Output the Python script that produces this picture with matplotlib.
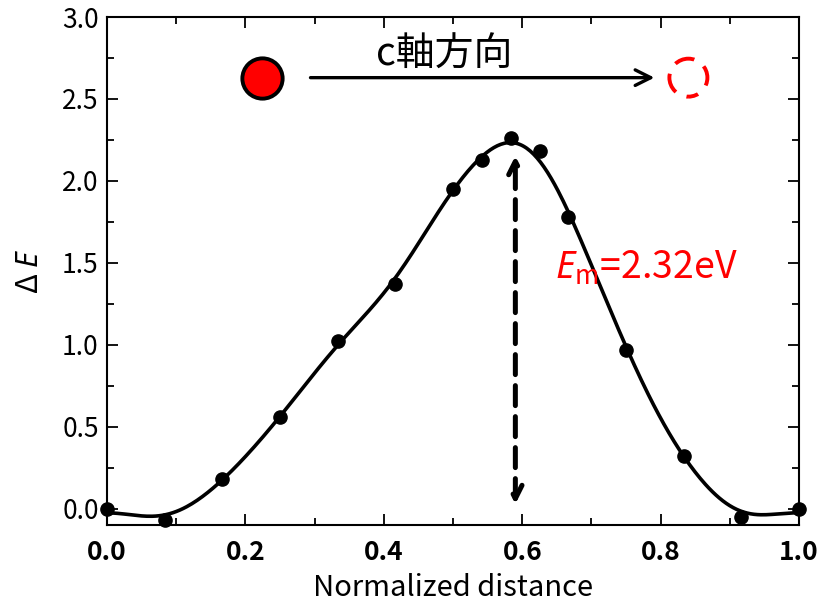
import numpy as np
import matplotlib.pyplot as plt
from matplotlib.patches import Ellipse
from matplotlib.ticker import MultipleLocator

plt.rcParams['font.family'] = ['Noto Sans CJK JP', 'DejaVu Sans']
plt.rcParams['mathtext.fontset'] = 'custom'
plt.rcParams['mathtext.it'] = 'Noto Sans:italic'
plt.rcParams['mathtext.rm'] = 'Noto Sans CJK JP'

# calculated points
dist = [0.0, 1/12, 2/12, 3/12, 4/12, 5/12, 6/12, 6.5/12, 7/12, 7.5/12,
        8/12, 9/12, 10/12, 11/12, 1.0]
energy = [0.0, -0.07, 0.18, 0.56, 1.02, 1.37, 1.95, 2.13, 2.26, 2.18,
          1.78, 0.97, 0.32, -0.05, 0.0]

# smoothing fit (fourier series with curvature penalty)
K = 8
def basis(x):
    x = np.asarray(x)
    cols = [np.ones_like(x)]
    for n in range(1, K + 1):
        cols += [np.cos(2 * np.pi * n * x), np.sin(2 * np.pi * n * x)]
    return np.column_stack(cols)

lam = 1.2e-5
pen = np.array([0.0] + [(2 * np.pi * n) ** 4 for n in range(1, K + 1) for _ in (0, 1)])
A = basis(dist)
coef = np.linalg.solve(A.T @ A + lam * np.diag(pen), A.T @ np.array(energy))
xs = np.linspace(0, 1, 400)
ys = basis(xs) @ coef

fig = plt.figure(figsize=(8.23, 6.08), dpi=100)
ax = fig.add_axes([0.130, 0.1365, 0.841, 0.8355])

ax.plot(xs, ys, color='black', lw=2.6, zorder=3)
ax.plot(dist, energy, 'o', color='black', ms=9.5, zorder=4, clip_on=False)

ax.set_xlim(0, 1)
ax.set_ylim(-0.1, 3.0)
ax.xaxis.set_major_locator(MultipleLocator(0.2))
ax.xaxis.set_minor_locator(MultipleLocator(0.1))
ax.yaxis.set_major_locator(MultipleLocator(0.5))
ax.yaxis.set_minor_locator(MultipleLocator(0.25))
ax.tick_params(which='both', direction='in', top=True, right=True, width=1.3)
ax.tick_params(which='major', length=8)
ax.tick_params(which='minor', length=5)
ax.tick_params(axis='y', labelsize=19, pad=6)
ax.tick_params(axis='x', labelsize=19, pad=10)
for lab in ax.get_xticklabels():
    lab.set_fontweight('bold')
for s in ax.spines.values():
    s.set_linewidth(1.5)

ax.set_xlabel('Normalized distance', fontsize=21, labelpad=5)
ax.set_ylabel(r'$\Delta$ $E$', fontsize=22, labelpad=12)

# migration direction sketch
ax.plot([0.224], [2.63], 'o', ms=29, mfc='red', mec='black', mew=2.8,
        zorder=5)
ax.annotate('', xy=(0.795, 2.63), xytext=(0.29, 2.63),
            arrowprops=dict(arrowstyle='->', color='black', lw=2.4,
                            mutation_scale=28))
ax.text(0.487, 2.77, 'c軸方向', fontsize=28, ha='center', va='center')
ax.add_patch(Ellipse((0.84, 2.63), 38 / 692, 38 / 164, fill=False,
                     edgecolor='red', lw=2.8, linestyle=(2.6, (5.2, 3.0))))

# barrier height arrow
ax.annotate('', xy=(0.59, 2.17), xytext=(0.59, 0.01),
            arrowprops=dict(arrowstyle='<->', color='black', lw=3.6,
                            linestyle=(0, (4, 2.2)), mutation_scale=24))
ax.text(0.647, 1.47, r'$E_{\mathrm{m}}$=2.32eV', color='red', fontsize=27,
        ha='left', va='center')

fig.savefig('out.png', dpi=100)
